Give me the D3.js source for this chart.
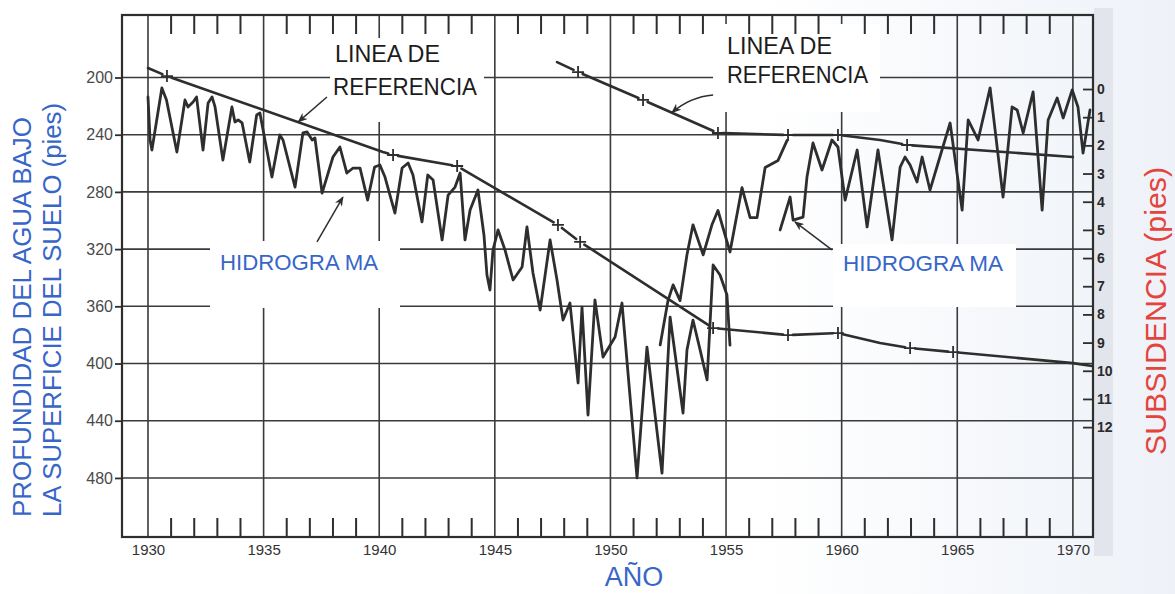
<!DOCTYPE html>
<html>
<head>
<meta charset="utf-8">
<title>Hidrograma y subsidencia</title>
<script src="https://cdn.jsdelivr.net/npm/d3@7"></script>
<style>
  html, body { margin: 0; padding: 0; background: #ffffff; }
  svg { display: block; }
  text { font-family: "Liberation Sans", Arial, sans-serif; }
</style>
</head>
<body>
<svg id="chart" width="1175" height="594"></svg>
<script>
// ---------------------------------------------------------------
// Data: depth to water below land surface (ft) by year
// ---------------------------------------------------------------

// Hydrograph, first well (1930 - 1955)
const wellA = [
  [1930.00,213.6],[1930.09,243.7],[1930.17,250.7],[1930.60,207.3],[1930.80,215.7],
  [1931.25,252.1],[1931.60,215.7],[1931.73,220.6],[1931.95,217.1],[1932.10,213.6],
  [1932.38,250.7],[1932.60,217.8],[1932.77,213.6],[1932.90,220.6],[1933.24,257.7],
  [1933.63,220.6],[1933.76,231.1],[1933.90,229.7],[1934.07,231.8],[1934.40,259.1],
  [1934.70,226.2],[1934.84,224.8],[1935.36,269.6],[1935.70,240.2],[1935.84,243.7],
  [1936.36,276.6],[1936.70,238.8],[1936.88,238.1],[1937.10,243.7],[1937.22,242.3],
  [1937.53,280.8],[1938.00,255.6],[1938.30,248.6],[1938.60,266.8],[1938.87,263.3],
  [1939.17,263.3],[1939.50,285.7],[1939.80,262.6],[1940.03,261.2],[1940.25,269.6],
  [1940.68,294.8],[1940.99,263.3],[1941.25,259.8],[1941.46,268.2],[1941.85,301.0],
  [1942.10,268.2],[1942.33,271.7],[1942.72,313.6],[1942.98,282.2],[1943.28,276.6],
  [1943.50,266.8],[1943.71,313.6],[1943.93,292.7],[1944.27,278.7],[1944.53,310.1],
  [1944.66,338.1],[1944.79,348.6],[1944.92,320.6],[1945.14,306.6],[1945.44,320.6],
  [1945.79,341.6],[1946.18,332.5],[1946.39,304.5],[1946.65,336.7],[1946.96,362.6],
  [1947.39,313.6],[1947.69,341.6],[1947.95,369.6],[1948.25,357.7],[1948.60,413.6],
  [1948.77,360.5],[1949.03,436.0],[1949.33,355.6],[1949.68,395.5],[1950.20,381.5],
  [1950.50,357.7],[1951.15,480.0],[1951.58,388.5],[1952.23,476.6],[1952.58,367.5],
  [1953.14,434.6],[1953.31,390.6],[1953.57,369.6],[1953.88,390.6],[1954.18,411.5],
  [1954.44,331.1],[1954.74,338.1],[1955.04,352.1],[1955.17,387.1]
];

// Hydrograph, recovery well (1952 - 1957)
const wellB = [
  [1952.15,387.0],[1952.49,356.0],[1952.71,345.0],[1953.01,356.0],[1953.31,324.0],
  [1953.57,303.0],[1954.01,324.0],[1954.39,303.0],[1954.65,293.0],[1955.17,322.0],
  [1955.69,277.0],[1956.04,298.0],[1956.34,298.0],[1956.69,263.0],[1957.25,258.0],
  [1957.64,244.0]
];

// Hydrograph, later well (1957 - 1970)
const wellC = [
  [1957.34,306.6],[1957.77,283.6],[1957.90,299.7],[1958.33,297.6],[1958.50,269.6],
  [1958.76,245.8],[1959.15,264.7],[1959.58,243.7],[1959.84,248.6],[1960.15,285.7],
  [1960.67,250.7],[1961.10,304.5],[1961.57,250.7],[1962.18,313.6],[1962.40,280.8],
  [1962.53,262.6],[1962.74,255.6],[1962.96,261.2],[1963.26,273.1],[1963.48,255.6],
  [1963.82,278.7],[1964.17,259.8],[1964.69,231.8],[1965.21,292.7],[1965.47,229.7],
  [1965.90,243.7],[1966.42,207.3],[1966.98,283.6],[1967.37,220.6],[1967.59,222.7],
  [1967.85,238.8],[1968.28,210.1],[1968.67,292.7],[1968.93,229.7],[1969.32,214.3],
  [1969.58,228.3],[1969.97,208.7],[1970.22,220.6],[1970.44,252.8],[1970.74,222.7]
];

// Reference lines (year, depth) and which vertices are surveyed "+" points
const refLower = [
  [1930.00,193.4],[1930.82,199.0],[1940.16,252.1],[1940.60,254.2],[1943.37,261.9],
  [1947.73,303.1],[1948.69,315.0],[1954.44,375.2],[1957.68,380.1],[1959.84,378.7],
  [1961.66,385.7],[1962.96,389.2],[1964.82,392.0],[1970.00,399.7],[1970.83,401.7]
];
const refLowerSurveyed = [false,true,false,true,true,true,true,true,true,true,false,true,true,false,false];

const refUpper = [
  [1947.69,189.2],[1948.60,196.2],[1951.41,215.7],[1954.65,238.8],[1957.68,240.2],
  [1959.84,240.2],[1961.66,243.7],[1962.83,247.2],[1970.00,255.6]
];
const refUpperSurveyed = [false,true,true,true,true,true,false,true,false];

// Axis ticks
const yearTicks = [1930, 1935, 1940, 1945, 1950, 1955, 1960, 1965, 1970];
const minorYears = [1931,1932,1933,1934,1936,1937,1938,1939,1941,1942,1943,1944,
                    1946,1947,1948,1949,1951,1952,1953,1954,1956,1957,1958,1959,
                    1961,1962,1963,1964,1966,1967,1968,1969];
const depthTicks = [200, 240, 280, 320, 360, 400, 440, 480];
const subsidenceTicks = [0,1,2,3,4,5,6,7,8,9,10,11,12];

// ---------------------------------------------------------------
// Layout and scales
// ---------------------------------------------------------------
const svg = d3.select("#chart");
const frame = { left: 122, right: 1093, top: 15, bottom: 537 };

const x = d3.scaleLinear().domain([1928.876, 1970.87]).range([frame.left, frame.right]);
const y = d3.scaleLinear().domain([156.3, 521.3]).range([frame.top, frame.bottom]);
const ySub = d3.scaleLinear().domain([-2.627, 15.90]).range([frame.top, frame.bottom]);

const ink = "#2e2e2e";
const gridInk = "#3b3b3b";
const blue = "#3766c8";
const red = "#e4443b";

// Paper tint on the right side and the strip beyond the right axis
const defs = svg.append("defs");
const tint = defs.append("linearGradient").attr("id", "paperTint")
  .attr("x1", "0").attr("x2", "1").attr("y1", "0").attr("y2", "0");
tint.append("stop").attr("offset", "0").attr("stop-color", "#ffffff");
tint.append("stop").attr("offset", "1").attr("stop-color", "#eef2f8");
svg.append("rect").attr("x", 760).attr("y", 0).attr("width", 415).attr("height", 594)
  .attr("fill", "url(#paperTint)");
svg.append("rect").attr("x", 1094).attr("y", 8).attr("width", 19).attr("height", 548)
  .attr("fill", "#e2e6ec");

// Arrow head
defs.append("marker").attr("id", "arrowHead")
  .attr("viewBox", "0 0 10 8").attr("refX", 9).attr("refY", 4)
  .attr("markerWidth", 10).attr("markerHeight", 8)
  .attr("markerUnits", "userSpaceOnUse").attr("orient", "auto")
  .append("path").attr("d", "M0,0 L10,4 L0,8 L3,4 Z").attr("fill", ink);

// ---------------------------------------------------------------
// Grid
// ---------------------------------------------------------------
const grid = svg.append("g").attr("stroke", gridInk).attr("stroke-width", 1.6);
grid.selectAll("line.v").data(yearTicks).join("line").attr("class", "v")
  .attr("x1", d => x(d)).attr("x2", d => x(d))
  .attr("y1", frame.top).attr("y2", frame.bottom);
grid.selectAll("line.h").data(depthTicks).join("line").attr("class", "h")
  .attr("x1", frame.left).attr("x2", frame.right)
  .attr("y1", d => y(d)).attr("y2", d => y(d));

// White panels behind the annotation labels
const panels = [
  { x0: 330, y0: 38, x1: 484, y1: 122 },
  { x0: 713, y0: 24, x1: 880, y1: 112 },
  { x0: 210, y0: 241, x1: 400, y1: 308 },
  { x0: 833, y0: 244, x1: 1016, y1: 307 }
];
svg.append("g").selectAll("rect").data(panels).join("rect")
  .attr("x", d => d.x0).attr("y", d => d.y0)
  .attr("width", d => d.x1 - d.x0).attr("height", d => d.y1 - d.y0)
  .attr("fill", "#ffffff");

// ---------------------------------------------------------------
// Frame and axes
// ---------------------------------------------------------------
svg.append("rect")
  .attr("x", frame.left).attr("y", frame.top)
  .attr("width", frame.right - frame.left).attr("height", frame.bottom - frame.top)
  .attr("fill", "none").attr("stroke", ink).attr("stroke-width", 2.2);

// Yearly ticks along the top and bottom edges, pointing inward
const tickPath = d3.path();
minorYears.forEach(v => {
  const px = x(v);
  tickPath.moveTo(px, frame.top);
  tickPath.lineTo(px, frame.top + 19);
  tickPath.moveTo(px, frame.bottom);
  tickPath.lineTo(px, frame.bottom - 19);
});
svg.append("path").attr("d", tickPath.toString())
  .attr("fill", "none").attr("stroke", ink).attr("stroke-width", 2);

function styleAxis(g) {
  g.select(".domain").remove();
  g.selectAll(".tick line").attr("stroke", ink).attr("stroke-width", 1.8);
}

// Year labels
svg.append("g").attr("transform", `translate(0,${frame.bottom})`)
  .call(d3.axisBottom(x).tickValues(yearTicks).tickSize(0).tickPadding(7).tickFormat(d3.format("d")))
  .call(g => g.select(".domain").remove())
  .call(g => g.selectAll("text").attr("font-size", 15).attr("fill", "#333")
    .attr("font-family", "'DejaVu Sans Condensed','Liberation Sans',sans-serif"));

// Depth axis (left)
svg.append("g").attr("transform", `translate(${frame.left},0)`)
  .call(d3.axisLeft(y).tickValues(depthTicks).tickSizeInner(7).tickSizeOuter(0).tickPadding(2))
  .call(styleAxis)
  .call(g => g.selectAll("text").attr("font-size", 16).attr("fill", "#4a4a4a")
    .attr("font-family", "'DejaVu Sans Condensed','Liberation Sans',sans-serif"));

// Subsidence axis (right): ticks inside, labels outside
svg.append("g").attr("transform", `translate(${frame.right},0)`)
  .call(d3.axisRight(ySub).tickValues(subsidenceTicks).tickSizeInner(-10).tickSizeOuter(0).tickPadding(4))
  .call(styleAxis)
  .call(g => g.selectAll("text").attr("font-size", 14).attr("font-weight", "bold").attr("fill", "#2a2a2a")
    .attr("font-family", "'DejaVu Serif Condensed','Liberation Serif',serif"));

// ---------------------------------------------------------------
// Reference lines with "+" survey marks
// ---------------------------------------------------------------
function drawReference(points, surveyed) {
  const pts = points.map(d => [x(d[0]), y(d[1])]);
  const gap = 5;
  const p = d3.path();
  let penDown = false;
  for (let i = 0; i < pts.length - 1; i++) {
    const [ax, ay] = pts[i], [bx, by] = pts[i + 1];
    const len = Math.hypot(bx - ax, by - ay);
    const ux = (bx - ax) / len, uy = (by - ay) / len;
    const t0 = surveyed[i] ? gap : 0;
    const t1 = surveyed[i + 1] ? gap : 0;
    if (!penDown || t0 > 0) p.moveTo(ax + ux * t0, ay + uy * t0);
    p.lineTo(bx - ux * t1, by - uy * t1);
    penDown = t1 === 0;
  }
  svg.append("path").attr("d", p.toString())
    .attr("fill", "none").attr("stroke", ink).attr("stroke-width", 2.6)
    .attr("stroke-linecap", "round").attr("stroke-linejoin", "round");
  svg.append("g").selectAll("path")
    .data(points.filter((d, i) => surveyed[i]))
    .join("path")
    .attr("transform", d => `translate(${x(d[0])},${y(d[1])})`)
    .attr("d", "M-6,0H6M0,-6V6")
    .attr("stroke", ink).attr("stroke-width", 1.8).attr("fill", "none");
}
drawReference(refLower, refLowerSurveyed);
drawReference(refUpper, refUpperSurveyed);

// ---------------------------------------------------------------
// Hydrographs
// ---------------------------------------------------------------
const hydroLine = d3.line().x(d => x(d[0])).y(d => y(d[1]));
svg.append("g").selectAll("path").data([wellA, wellB, wellC]).join("path")
  .attr("d", hydroLine)
  .attr("fill", "none").attr("stroke", ink).attr("stroke-width", 2.8)
  .attr("stroke-linejoin", "round").attr("stroke-linecap", "round");

// ---------------------------------------------------------------
// Annotations
// ---------------------------------------------------------------
const arrows = [
  { from: [1937.74, 213.6], to: [1936.50, 231.0] },
  { from: [1954.44, 212.2], via: [1953.44, 213.6], to: [1952.66, 224.5] },
  { from: [1937.31, 315.0], to: [1938.43, 283.6] },
  { from: [1959.58, 320.6], to: [1957.98, 301.0] }
];
svg.append("g").selectAll("path").data(arrows).join("path")
  .attr("d", a => {
    const p = d3.path();
    p.moveTo(x(a.from[0]), y(a.from[1]));
    if (a.via) p.quadraticCurveTo(x(a.via[0]), y(a.via[1]), x(a.to[0]), y(a.to[1]));
    else p.lineTo(x(a.to[0]), y(a.to[1]));
    return p.toString();
  })
  .attr("fill", "none").attr("stroke", ink).attr("stroke-width", 1.5)
  .attr("marker-end", "url(#arrowHead)");

const labels = [
  { text: "LINEA DE",    x: 335, y: 62,  w: 105, size: 23, color: "#1c1c1c" },
  { text: "REFERENCIA",  x: 333, y: 95,  w: 144, size: 23, color: "#1c1c1c" },
  { text: "LINEA DE",    x: 727, y: 54,  w: 105, size: 23, color: "#1c1c1c" },
  { text: "REFERENCIA",  x: 727, y: 83,  w: 141, size: 23, color: "#1c1c1c" },
  { text: "HIDROGRA MA", x: 220, y: 270, w: 158, size: 22.5, color: blue },
  { text: "HIDROGRA MA", x: 843, y: 271, w: 160, size: 22.5, color: blue }
];
svg.append("g").selectAll("text").data(labels).join("text")
  .attr("x", d => d.x).attr("y", d => d.y)
  .attr("font-size", d => d.size).attr("fill", d => d.color)
  .attr("textLength", d => d.w).attr("lengthAdjust", "spacingAndGlyphs")
  .text(d => d.text);

// Axis titles
const leftTitle = svg.append("g").attr("fill", blue).attr("font-size", 25.5);
leftTitle.append("text").attr("transform", "translate(31,517) rotate(-90)")
  .attr("textLength", 400).attr("lengthAdjust", "spacingAndGlyphs")
  .text("PROFUNDIDAD DEL AGUA BAJO");
leftTitle.append("text").attr("transform", "translate(61,517) rotate(-90)")
  .attr("textLength", 414).attr("lengthAdjust", "spacingAndGlyphs")
  .text("LA SUPERFICIE DEL SUELO (pies)");

svg.append("text").attr("transform", "translate(1166,455) rotate(-90)")
  .attr("font-size", 30).attr("fill", red)
  .attr("textLength", 288).attr("lengthAdjust", "spacingAndGlyphs")
  .text("SUBSIDENCIA (pies)");

svg.append("text").attr("x", 634).attr("y", 586).attr("text-anchor", "middle")
  .attr("font-size", 27).attr("fill", blue)
  .text("AÑO");
</script>
</body>
</html>
